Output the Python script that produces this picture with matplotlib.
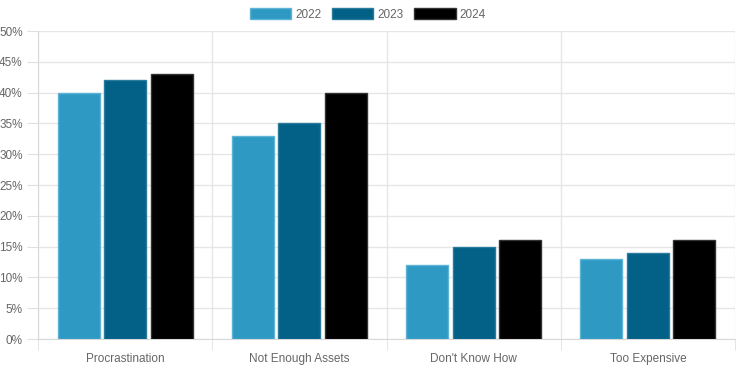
import matplotlib
matplotlib.use('Agg')
import matplotlib.pyplot as plt
from matplotlib.patches import Patch
import numpy as np

plt.rcParams['font.family'] = ['Liberation Sans', 'DejaVu Sans']

categories = ['Procrastination', 'Not Enough Assets', "Don't Know How", 'Too Expensive']
years = ['2022', '2023', '2024']
v2022 = [40, 33, 12, 13]
v2023 = [42, 35, 15, 14]
v2024 = [43, 40, 16, 16]
colors = ['#2e9ac4', '#036086', '#000000']
edges = ['#5fb3d4', '#2a7b9c', '#333333']

fig = plt.figure(figsize=(7.36, 3.68), dpi=100)
ax = fig.add_axes([38 / 736, 29 / 368, 697 / 736, 308 / 368])

x = np.arange(len(categories))
slot = 0.8 / 3
bw = slot * 0.9
for i, vals in enumerate([v2022, v2023, v2024]):
    ax.bar(x - 0.4 + slot * (i + 0.5), vals, width=bw, color=colors[i],
           edgecolor=edges[i], linewidth=1, zorder=3)

ax.set_xlim(-0.5, len(categories) - 0.5)
ax.set_ylim(0, 50)
yt = np.arange(0, 51, 5)
ax.set_yticks(yt)
ax.set_yticklabels([f'{v}%' for v in yt])
ax.set_xticks(x)
ax.set_xticklabels(categories)
ax.set_xticks(np.arange(-0.5, len(categories)), minor=True)

ax.grid(axis='y', color='#e6e6e6', linewidth=1, zorder=0)
ax.grid(axis='x', which='minor', color='#e6e6e6', linewidth=1, zorder=0)
ax.tick_params(axis='x', which='major', length=0, pad=10, labelsize=8.5, colors='#666666')
ax.tick_params(axis='x', which='minor', length=8, color='#e0e0e0')
ax.tick_params(axis='y', length=8, color='#e0e0e0', pad=3, labelsize=8.5, labelcolor='#666666')
for s in ['top', 'right']:
    ax.spines[s].set_visible(False)
ax.spines['left'].set_color('#d9d9d9')
ax.spines['bottom'].set_color('#d9d9d9')

handles = [Patch(facecolor=colors[i], edgecolor=edges[i], label=years[i]) for i in range(3)]
leg = fig.legend(handles=handles, loc='upper center', bbox_to_anchor=(0.5, 1.0), ncol=3,
                 frameon=False, fontsize=8.5, handlelength=3.5, handleheight=1.0,
                 handletextpad=0.35, columnspacing=0.9, borderaxespad=0.3)
for t in leg.get_texts():
    t.set_color('#666666')

fig.savefig('out.png', dpi=100)
